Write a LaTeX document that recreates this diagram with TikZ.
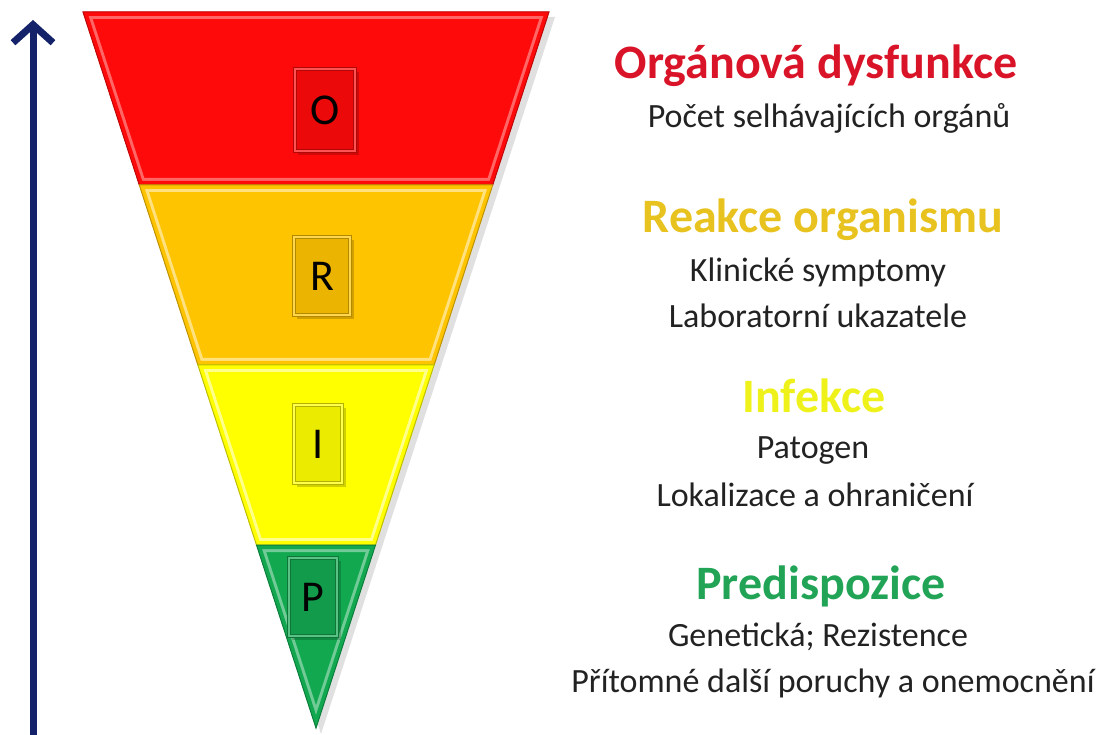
\documentclass[tikz,border=0pt]{standalone}
\usepackage{fontspec}
\setmainfont{Carlito}
\usetikzlibrary{arrows.meta}
\definecolor{navy}{HTML}{14226A}
\definecolor{bRed}{HTML}{FF0A0A}
\definecolor{bOrange}{HTML}{FFC400}
\definecolor{bYellow}{HTML}{FFFF00}
\definecolor{bGreen}{HTML}{12A850}
\definecolor{tRed}{HTML}{DA1428}
\definecolor{tGold}{HTML}{E8C21E}
\definecolor{tYellow}{HTML}{EEF21A}
\definecolor{tGreen}{HTML}{22A456}
\definecolor{txt}{HTML}{222222}
\newcommand\fband[3]{%
  \begin{scope}
    \clip #1;
    \fill[#2] #1;
    \draw[#3, line width=14pt] #1;
    \draw[#2, line width=8pt] #1;
  \end{scope}
  \draw[#2!75!black, line width=1pt] #1;
}
\tikzset{
  letterbox/.style={draw=#1!70!black, line width=1pt, fill=#1!92!black,
    minimum width=54pt, minimum height=78pt, font=\fontsize{44}{44}\selectfont, text=black,
    double=#1!70!white, double distance=2pt, inner sep=0pt},
  boxshadow/.style={fill=black, opacity=0.18},
  title/.style={font=\bfseries\fontsize{48}{48}\selectfont},
  sub/.style={font=\fontsize{34}{34}\selectfont, text=txt}
}
\begin{document}
\begin{tikzpicture}[x=1pt,y=-1pt]
\useasboundingbox (0,0) rectangle (1101,735);
% shadow
\fill[black, opacity=0.12] (88,17) -- (555,17) -- (321,734) -- cycle;
% bands
\fband{(83,12) -- (549,12) -- (492.7,185) -- (139.3,185) -- cycle}{bRed}{red!60!white}
\fband{(139.3,185) -- (492.7,185) -- (434.1,365) -- (197.9,365) -- cycle}{bOrange}{bOrange!50!white}
\fband{(197.9,365) -- (434.1,365) -- (375.5,545) -- (256.5,545) -- cycle}{bYellow}{bYellow!45!white}
\fband{(256.5,545) -- (375.5,545) -- (316,728) -- cycle}{bGreen}{bGreen!60!white}
% letter box shadows
\fill[boxshadow] (298,72) rectangle (359,155);
\fill[boxshadow] (297,240) rectangle (354,319);
\fill[boxshadow] (297,408) rectangle (346,487);
\fill[boxshadow] (292,561) rectangle (341,640);
% letter boxes
\node[letterbox=bRed, minimum width=60pt, minimum height=82pt] (bO) at (325,110) {O};
\node[letterbox=bOrange, minimum width=56pt] (bR) at (322,276) {R};
\node[letterbox=bYellow, minimum width=48pt] (bI) at (318,444) {I};
\node[letterbox=bGreen, minimum width=48pt] (bP) at (313,597) {P};
% arrow
\coordinate (ab) at (33,735);
\coordinate (at) at (33,20);
\draw[navy, line width=7pt, -{Straight Barb[length=18pt,width=40pt]}] (ab) -- (at);
% texts
\node[title, text=tRed] (t1) at (816,66) {Orgánová dysfunkce};
\node[sub] (s1a) at (829,118) {Počet selhávajících orgánů};
\node[title, text=tGold] (t2) at (823,220) {Reakce organismu};
\node[sub] (s2a) at (818,272) {Klinické symptomy};
\node[sub] (s2b) at (818,316) {Laboratorní ukazatele};
\node[title, text=tYellow] (t3) at (814,396) {Infekce};
\node[sub] (s3a) at (813,451) {Patogen};
\node[sub] (s3b) at (815,495) {Lokalizace a ohraničení};
\node[title, text=tGreen] (t4) at (821,586) {Predispozice};
\node[sub] (s4a) at (818,637) {Genetická; Rezistence};
\node[sub] (s4b) at (833,683) {Přítomné další poruchy a onemocnění};
\end{tikzpicture}
\end{document}
